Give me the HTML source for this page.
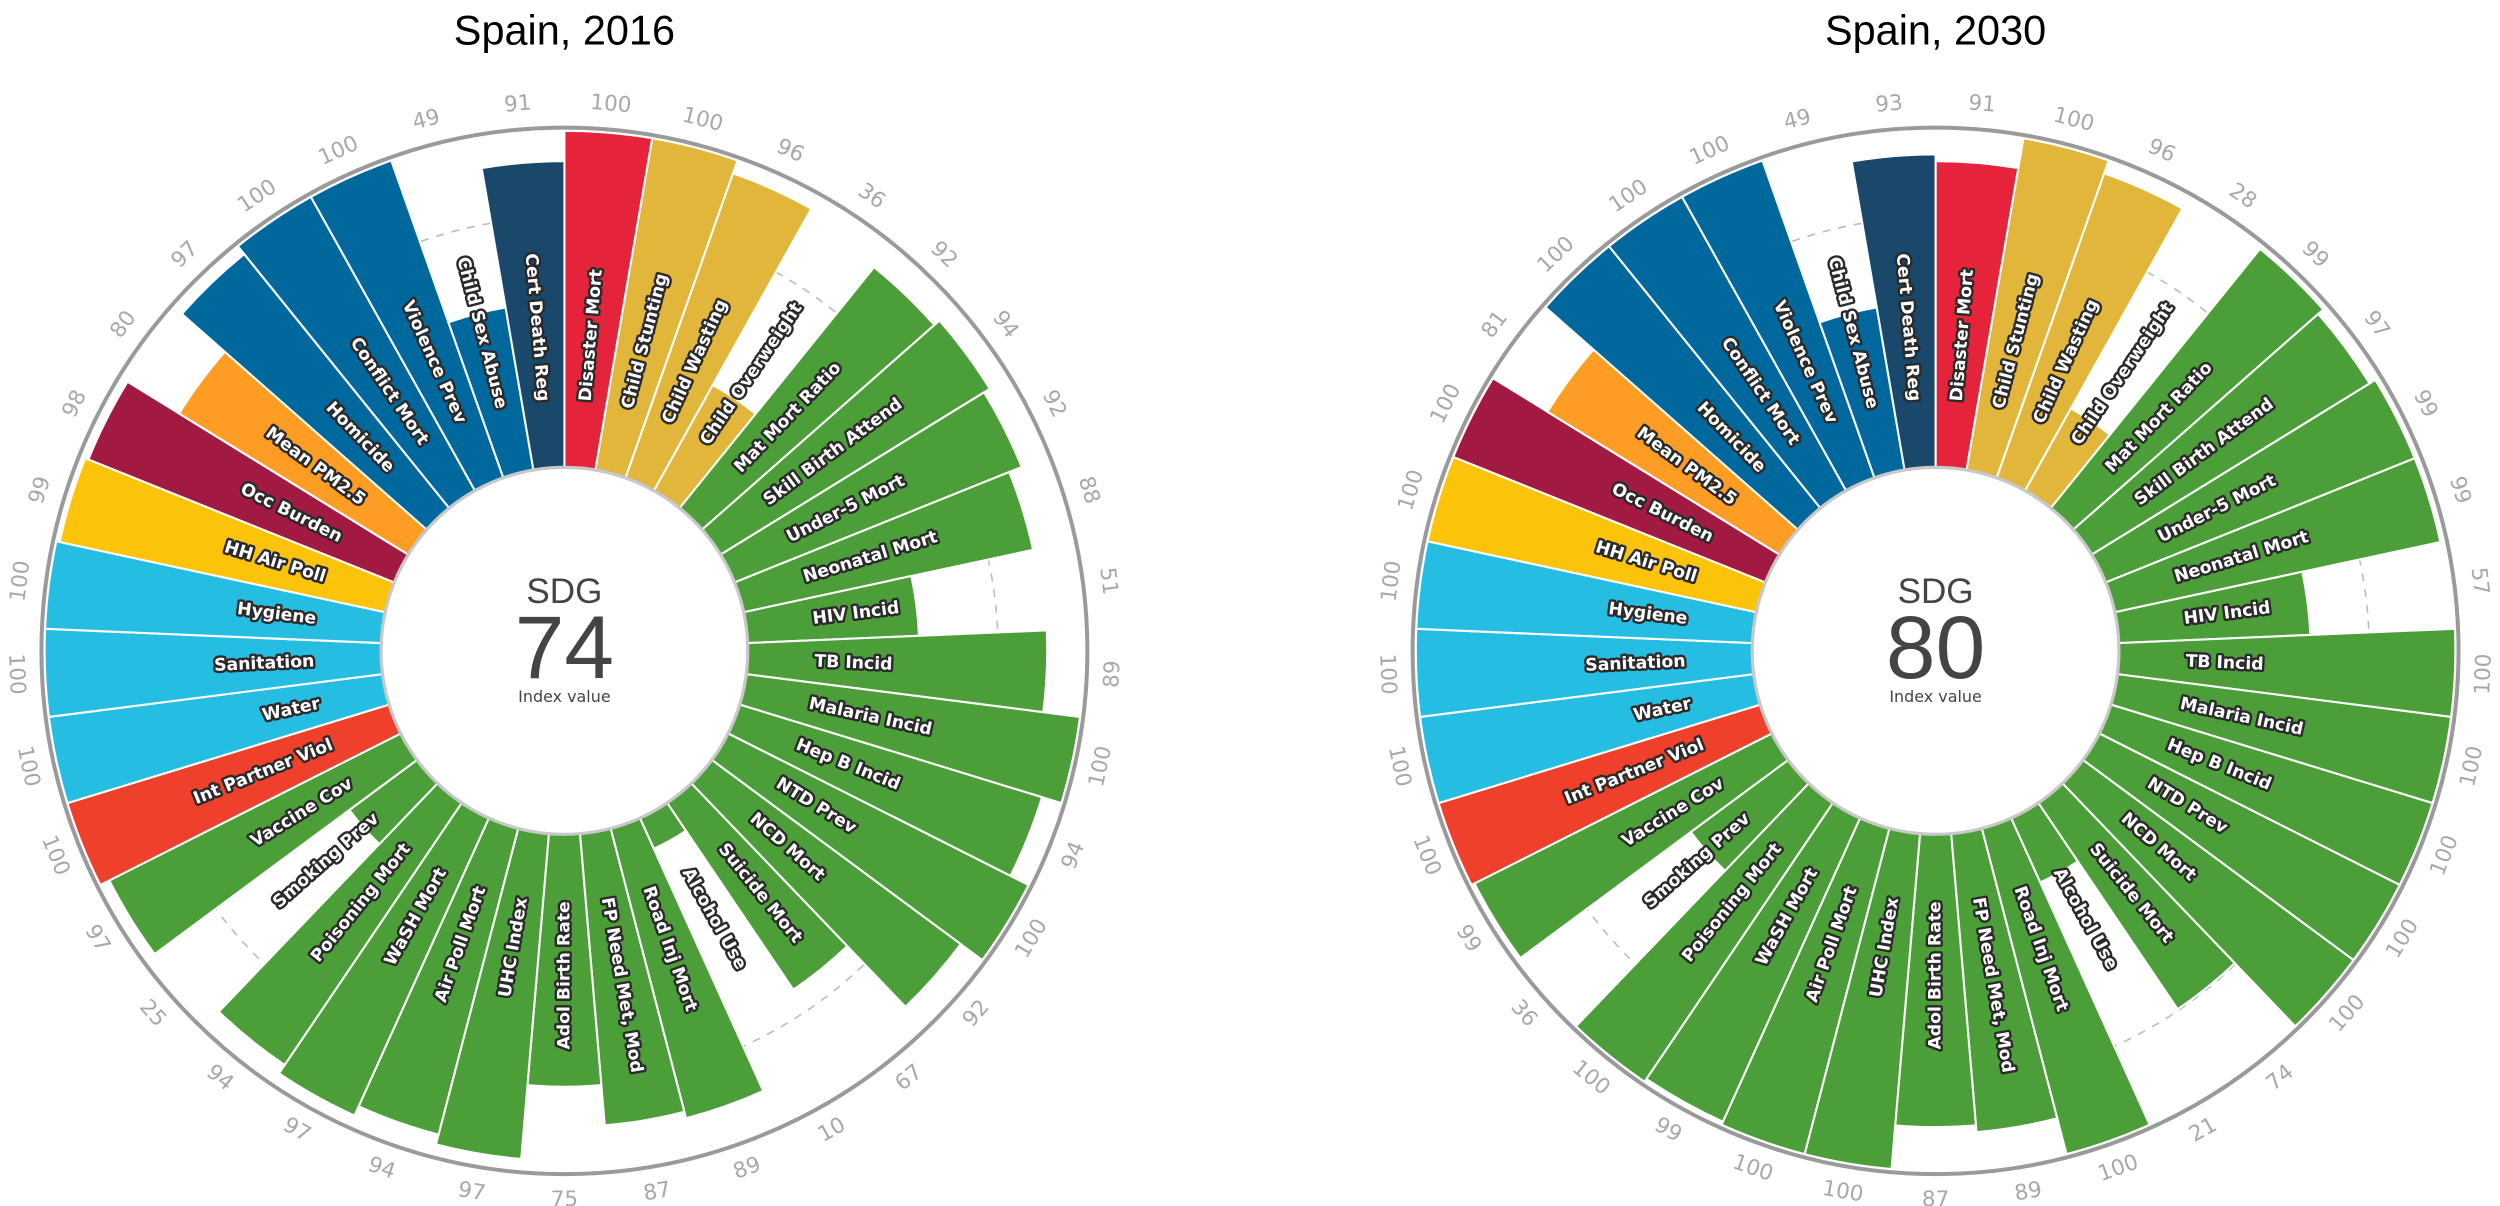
<!DOCTYPE html>
<html><head><meta charset="utf-8"><style>
html,body{margin:0;padding:0;background:#fff;}
svg{display:block;}
</style></head><body>
<svg id="chart" width="2500" height="1206" viewBox="0 0 1568 756" preserveAspectRatio="none" xmlns="http://www.w3.org/2000/svg"></svg>
<script>
const indicators = ["Disaster Mort","Child Stunting","Child Wasting","Child Overweight","Mat Mort Ratio","Skill Birth Attend","Under-5 Mort","Neonatal Mort","HIV Incid","TB Incid","Malaria Incid","Hep B Incid","NTD Prev","NCD Mort","Suicide Mort","Alcohol Use","Road Inj Mort","FP Need Met, Mod","Adol Birth Rate","UHC Index","Air Poll Mort","WaSH Mort","Poisoning Mort","Smoking Prev","Vaccine Cov","Int Partner Viol","Water","Sanitation","Hygiene","HH Air Poll","Occ Burden","Mean PM2.5","Homicide","Conflict Mort","Violence Prev","Child Sex Abuse","Cert Death Reg"];
const groups = ["dis","nut","nut","nut","g","g","g","g","g","g","g","g","g","g","g","g","g","g","g","g","g","g","g","g","g","ipv","wash","wash","wash","hh","occ","pm","viol","viol","viol","viol","cdr"];
const values2016 = [100,100,96,36,92,94,92,88,51,89,100,94,100,92,67,10,89,87,75,97,94,97,94,25,97,100,100,100,100,99,98,80,97,100,100,49,91];
const values2030 = [91,100,96,28,99,97,99,99,57,100,100,100,100,100,74,21,100,89,87,100,100,99,100,36,99,100,100,100,100,100,100,81,100,100,100,49,93];
const indexValues = [74,80];
const titles = ["Spain, 2016","Spain, 2030"];
const groupColors = {dis:"#e5243b",nut:"#e2b63a",g:"#4c9f38",ipv:"#ef402b",wash:"#26bde2",hh:"#fcc30b",occ:"#a21942",pm:"#fd9d24",viol:"#00689d",cdr:"#19486a"};

const NS="http://www.w3.org/2000/svg";
const svg=document.getElementById('chart');
const R0=115, R1=326, RING=328, LABEL_R=344, TEXT_R=157, DASH_R=272;
function rScale(v){return R0+(v/100)*(R1-R0);}
function pt(cx,cy,r,deg){const a=deg*Math.PI/180;return [cx+r*Math.sin(a),cy-r*Math.cos(a)];}
function mk(tag,attrs,parent){const e=document.createElementNS(NS,tag);for(const k in attrs)e.setAttribute(k,attrs[k]);(parent||svg).appendChild(e);return e;}

function drawChart(cx,cy,vals,idx,title,key){
  const g=mk('g',{});
  
  
  const t=mk('text',{x:cx,y:28,'text-anchor':'middle','font-family':'Liberation Sans, sans-serif','font-size':26,fill:'#000'},g);
  t.textContent=title;
  
  
  const dash=mk('circle',{cx:cx,cy:cy,r:DASH_R,fill:'none',stroke:'#bbb','stroke-width':1,'stroke-dasharray':'5,5'},g);
  
  
  const n=vals.length, step=360/n;
  for(let i=0;i<n;i++){
    const a0=i*step,a1=(i+1)*step,r=rScale(vals[i]);
    const p1=pt(cx,cy,R0,a0),p2=pt(cx,cy,r,a0),p3=pt(cx,cy,r,a1),p4=pt(cx,cy,R0,a1);
    const d=`M${p1[0]},${p1[1]} L${p2[0]},${p2[1]} A${r},${r} 0 0 1 ${p3[0]},${p3[1]} L${p4[0]},${p4[1]} A${R0},${R0} 0 0 0 ${p1[0]},${p1[1]} Z`;
    const bar=mk('path',{d:d,fill:groupColors[groups[i]],stroke:'#fff','stroke-width':1.3},g);
    
    
  }
  const ring=mk('circle',{cx:cx,cy:cy,r:RING,fill:'none',stroke:'#9a9a9a','stroke-width':2.5},g);
  
  
  const inner=mk('circle',{cx:cx,cy:cy,r:R0,fill:'#fff',stroke:'#c8c8c8','stroke-width':2},g);
  
  
  for(let i=0;i<n;i++){
    const m=(i+0.5)*step;
    const p=pt(cx,cy,TEXT_R,m);
    const right=m<180;
    const rot=right?m-90:m+90;
    const lt=mk('text',{x:p[0],y:p[1],'text-anchor':right?'start':'end','dominant-baseline':'central',transform:`rotate(${rot} ${p[0]} ${p[1]})`,'font-family':'DejaVu Sans, sans-serif','font-weight':'bold','font-size':10.8,fill:'#fff',stroke:'#2a2a2a','stroke-width':3,'paint-order':'stroke','stroke-linejoin':'round'},g);
    lt.textContent=indicators[i];
    
    
    const q=pt(cx,cy,LABEL_R,m);
    const vr=(m<=90||m>=270)?m:m-180;
    const vt=mk('text',{x:q[0],y:q[1],'text-anchor':'middle','dominant-baseline':'central',transform:`rotate(${vr} ${q[0]} ${q[1]})`,'font-family':'DejaVu Sans, sans-serif','font-size':13.5,fill:'#a8a8a8'},g);
    vt.textContent=vals[i];
    
    
  }
  const s=mk('text',{x:cx,y:cy-30,'text-anchor':'middle','font-family':'Liberation Sans, sans-serif','font-size':22,fill:'#444'},g);
  s.textContent='SDG';
  
  
  const v=mk('text',{x:cx,y:cy+17,'text-anchor':'middle','font-family':'Liberation Sans, sans-serif','font-size':56,fill:'#444'},g);
  v.textContent=idx;
  
  
  const iv=mk('text',{x:cx,y:cy+32,'text-anchor':'middle','font-family':'DejaVu Sans, sans-serif','font-size':10,fill:'#444'},g);
  iv.textContent='Index value';
  
  
}
drawChart(354,408,values2016,indexValues[0],titles[0],'2016');
drawChart(1214,408,values2030,indexValues[1],titles[1],'2030');
</script>
</body></html>
